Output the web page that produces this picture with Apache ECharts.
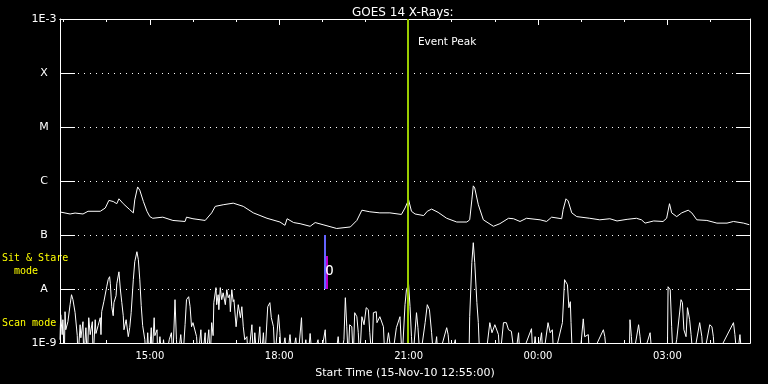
<!DOCTYPE html>
<html>
<head>
<meta charset="utf-8">
<script src="https://cdn.jsdelivr.net/npm/echarts@6/dist/echarts.min.js"></script>
<style>
  html, body { margin: 0; padding: 0; background: #000; }
  #chart { width: 768px; height: 384px; }
</style>
</head>
<body>
<div id="chart"></div>
<script>
// ---- DATA (time in minutes after start time 15-Nov-10 12:55:00) ----
const startMinuteOfDay = 12 * 60 + 55;
const spanMinutes = 960;

// GOES 14 long channel (1-8 A), W/m^2
const longTime = [0,14,21,32,39,56,63,68,74,79,82,88,97,102,104,108,111,116,121,125,129,143,157,174,176,185,202,204,211,216,227,241,255,269,288,306,313,316,325,334,348,355,366,385,404,413,420,431,445,459,475,480,485,489,494,506,511,517,526,538,552,566,570,573,575,577,582,589,603,612,624,631,640,649,668,677,684,698,700,704,707,712,719,737,751,765,775,789,802,809,814,826,839,844,848,851,858,865,874,879,886,900,914,928,937,951,959];
const longFlux = [2.67e-7,2.45e-7,2.55e-7,2.45e-7,2.75e-7,2.75e-7,3.16e-7,4.37e-7,4.17e-7,3.8e-7,4.68e-7,3.8e-7,2.95e-7,2.57e-7,4.47e-7,7.76e-7,6.76e-7,4.17e-7,2.75e-7,2.19e-7,2.04e-7,2.14e-7,1.86e-7,1.78e-7,2.14e-7,2.0e-7,1.86e-7,1.78e-7,2.57e-7,3.39e-7,3.63e-7,3.89e-7,3.39e-7,2.57e-7,2.04e-7,1.74e-7,1.51e-7,2.0e-7,1.7e-7,1.62e-7,1.45e-7,1.7e-7,1.55e-7,1.32e-7,1.41e-7,1.86e-7,2.88e-7,2.69e-7,2.57e-7,2.57e-7,2.4e-7,3.16e-7,4.47e-7,2.75e-7,2.45e-7,2.29e-7,2.75e-7,3.02e-7,2.63e-7,2.04e-7,1.74e-7,1.74e-7,1.91e-7,4.47e-7,8.13e-7,7.41e-7,3.63e-7,1.91e-7,1.45e-7,1.62e-7,2.04e-7,2.0e-7,1.78e-7,2.04e-7,1.91e-7,1.78e-7,2.14e-7,2.0e-7,2.95e-7,4.68e-7,4.27e-7,2.57e-7,2.19e-7,2.04e-7,1.91e-7,2.0e-7,1.82e-7,1.95e-7,2.04e-7,1.91e-7,1.66e-7,1.82e-7,1.78e-7,2.04e-7,3.8e-7,2.57e-7,2.19e-7,2.57e-7,2.88e-7,2.57e-7,1.91e-7,1.86e-7,1.66e-7,1.66e-7,1.78e-7,1.66e-7,1.55e-7];

// GOES 14 short channel (0.5-4 A), W/m^2 (values below 1E-9 sit under the axis)
const shortTime = [0,1,3,4,6,7,8,11,14,16,18,21,24,25,28,29,32,33,36,38,40,42,45,46,49,50,53,56,57,58,61,65,67,69,70,72,74,75,78,79,82,84,86,88,89,92,95,97,99,102,104,107,109,111,113,115,118,120,122,124,127,128,131,132,135,136,139,142,144,147,152,155,157,160,162,164,168,171,174,176,179,181,183,185,190,192,196,198,202,203,207,209,211,213,214,217,218,220,221,223,225,227,230,232,234,236,237,239,241,242,245,248,251,253,255,257,260,262,267,269,271,274,278,280,283,285,289,292,294,297,299,304,306,308,313,316,320,323,328,331,336,338,342,345,348,351,359,362,369,371,383,387,390,395,397,399,401,403,406,408,410,413,415,417,420,423,426,429,431,434,436,440,441,445,450,452,457,459,462,468,473,476,480,482,485,487,489,491,496,498,501,508,511,514,517,520,524,526,538,540,543,550,552,569,570,573,575,577,580,582,584,592,598,601,605,610,612,617,621,624,628,633,638,640,656,658,661,664,670,672,679,682,685,687,699,702,704,706,708,710,711,713,723,728,730,735,737,756,758,761,792,793,795,797,805,807,810,821,824,845,846,849,851,853,858,864,866,868,871,873,876,878,881,890,893,895,904,907,909,911,937,939,942,946,949,960];
const shortFlux = [1.15e-9,3.34e-9,1.43e-9,2.7e-9,5e-10,3.8e-9,1.76e-9,2.48e-9,5.12e-9,7.84e-9,6.34e-9,3.64e-9,1.37e-9,5e-10,2.18e-9,1.25e-9,2.48e-9,5e-10,1.92e-9,5e-10,2.94e-9,1.43e-9,2.48e-9,5e-10,2.7e-9,1.5e-9,2.09e-9,2.94e-9,1.43e-9,3.8e-9,5.82e-9,1.1e-8,1.49e-8,1.69e-8,1.25e-8,4.7e-9,3.2e-9,5.58e-9,7.5e-9,1.25e-8,2.08e-8,9.7e-9,5.58e-9,3.2e-9,1.76e-9,2.7e-9,1.31e-9,1.92e-9,3.64e-9,1.49e-8,3.2e-8,4.9e-8,3.49e-8,1.49e-8,4.91e-9,2.09e-9,1.15e-9,5e-10,1.55e-9,5e-10,1.92e-9,5e-10,2.94e-9,1.37e-9,1.76e-9,5e-10,1.31e-9,5e-10,1.15e-9,5e-10,1.15e-9,1.55e-9,5e-10,6.34e-9,1.15e-9,5e-10,1.43e-9,5e-10,2.18e-9,6.34e-9,7.2e-9,4.7e-9,2.0e-9,2.38e-9,1.31e-9,5e-10,1.76e-9,5e-10,1.55e-9,5e-10,1.76e-9,5e-10,2.38e-9,1.37e-9,5.58e-9,1.06e-8,5.12e-9,7.84e-9,4.14e-9,1.06e-8,6.34e-9,8.5e-9,5.12e-9,9.7e-9,6.9e-9,7.84e-9,3.8e-9,9.7e-9,5.82e-9,6.34e-9,2.0e-9,5.12e-9,2.94e-9,4.7e-9,2.0e-9,1.15e-9,1.31e-9,5e-10,2.18e-9,5e-10,1.55e-9,5e-10,2.0e-9,5e-10,1.55e-9,5e-10,4.7e-9,5.58e-9,2.94e-9,2.0e-9,5e-10,3.34e-9,1.55e-9,5e-10,1.25e-9,5e-10,1.43e-9,5e-10,1.25e-9,5e-10,2.94e-9,5e-10,1.15e-9,5e-10,1.5e-9,5e-10,1.15e-9,5e-10,1.76e-9,5e-10,5e-10,1.31e-9,5e-10,1.15e-9,6.9e-9,2.0e-9,5e-10,2.18e-9,2.0e-9,5e-10,3.64e-9,3.07e-9,1.55e-9,5e-10,3.07e-9,2.18e-9,4.51e-9,4.14e-9,1.55e-9,5e-10,3.64e-9,3.8e-9,2.38e-9,3.07e-9,2.0e-9,5e-10,1.55e-9,1.43e-9,5e-10,1.92e-9,3.07e-9,5e-10,5.12e-9,9.7e-9,1.2e-8,4.7e-9,1.31e-9,5e-10,3.64e-9,1.92e-9,5e-10,2.38e-9,5.12e-9,4.14e-9,1.55e-9,5e-10,1.31e-9,5e-10,1.92e-9,1.43e-9,5e-10,1.15e-9,5e-10,5e-10,3.07e-9,3.1e-8,7.2e-8,3.1e-8,5.58e-9,2.38e-9,5e-10,5e-10,2.38e-9,1.55e-9,2.18e-9,1.43e-9,5e-10,2.38e-9,2.38e-9,1.76e-9,1.65e-9,5e-10,1.55e-9,5e-10,1.84e-9,5e-10,1.31e-9,5e-10,1.55e-9,5e-10,2.38e-9,1.55e-9,1.76e-9,5e-10,2.38e-9,1.49e-8,1.62e-8,1.2e-8,4.51e-9,5.82e-9,2.38e-9,5e-10,5e-10,2.8e-9,1.31e-9,1.43e-9,5e-10,1.76e-9,1.31e-9,5e-10,5e-10,2.7e-9,1.31e-9,5e-10,2.18e-9,1.31e-9,5e-10,1.55e-9,5e-10,5e-10,1.1e-8,9.7e-9,2.0e-9,5e-10,1.15e-9,6.34e-9,5.58e-9,1.76e-9,1.31e-9,4.51e-9,2.7e-9,1.43e-9,5e-10,2.38e-9,1.31e-9,5e-10,2.18e-9,2.0e-9,1.31e-9,5e-10,2.38e-9,1.43e-9,5e-10,1.43e-9,5e-10,5e-10];

// Event peak and sit & stare marker
const eventPeakTime = 484;
const eventLabelFlux = 3.7e-4;
const stareTimes = [369, 371];          // blue, magenta marker columns
const stareBlueRange = [1e-8, 1e-7];
const stareMagentaRange = [1e-8, 4.1e-8];
const stareLabelPoint = [375, 2.1e-8];

// Axis labels
const majorTickTimes = [125, 305, 485, 665, 845];
const majorTickLabels = ['15:00', '18:00', '21:00', '00:00', '03:00'];
const yTickExponents = [-9, -8, -7, -6, -5, -4, -3];
const yTickLabels = ['1E-9', 'A', 'B', 'C', 'M', 'X', '1E-3'];

const titleText = 'GOES 14 X-Rays:';
const xAxisName = 'Start Time (15-Nov-10 12:55:00)';

// hourly minor ticks
const hourTicks = [];
for (let m = 60 - (startMinuteOfDay % 60); m <= spanMinutes; m += 60) hourTicks.push(m);

const FONT = 'DejaVu Sans';
const WHITE = '#ffffff';

const chart = echarts.init(document.getElementById('chart'), null, { renderer: 'canvas' });

const baseX = {
  type: 'value', min: 0, max: spanMinutes, gridIndex: 0,
  splitLine: { show: false },
  axisLine: { show: true, onZero: false, lineStyle: { color: WHITE, width: 1 } },
  axisLabel: { show: false }
};
const baseY = {
  type: 'log', logBase: 10, min: 1e-9, max: 1e-3,
  axisLine: { show: true, onZero: false, lineStyle: { color: WHITE, width: 1 } }
};

const option = {
  backgroundColor: '#000000',
  animation: false,
  title: {
    text: titleText, left: 347, top: 2,
    textStyle: { color: WHITE, fontSize: 12, fontWeight: 'normal', fontFamily: FONT }
  },
  grid: { left: 60, right: 18, top: 19, bottom: 41, containLabel: false },
  xAxis: [
    Object.assign({}, baseX, {
      position: 'bottom',
      axisTick: { show: true, inside: true, length: 6, customValues: majorTickTimes, lineStyle: { color: WHITE } },
      axisLabel: {
        show: true, customValues: majorTickTimes, color: WHITE, fontSize: 10, fontFamily: FONT, margin: 8,
        formatter: v => majorTickLabels[majorTickTimes.indexOf(Math.round(v))] || ''
      },
      name: xAxisName, nameLocation: 'middle', nameGap: 25,
      nameTextStyle: { color: WHITE, fontSize: 11, fontFamily: FONT }
    }),
    Object.assign({}, baseX, {
      position: 'bottom',
      axisTick: { show: true, inside: true, length: 3, customValues: hourTicks, lineStyle: { color: WHITE } }
    }),
    Object.assign({}, baseX, {
      position: 'top',
      axisTick: { show: true, inside: true, length: 6, customValues: majorTickTimes, lineStyle: { color: WHITE } }
    }),
    Object.assign({}, baseX, {
      position: 'top',
      axisTick: { show: true, inside: true, length: 3, customValues: hourTicks, lineStyle: { color: WHITE } }
    })
  ],
  yAxis: [
    Object.assign({}, baseY, {
      position: 'left',
      axisTick: { show: true, inside: true, length: 15, lineStyle: { color: WHITE } },
      axisLabel: {
        show: true, color: WHITE, fontSize: 11, fontFamily: FONT, align: 'center', margin: 16,
        formatter: v => {
          const i = yTickExponents.indexOf(Math.round(Math.log10(v)));
          return i >= 0 ? yTickLabels[i] : '';
        }
      },
      splitLine: { show: true, lineStyle: { color: WHITE, width: 1, type: [1, 5] } }
    }),
    Object.assign({}, baseY, {
      position: 'right',
      axisTick: { show: true, inside: true, length: 14, lineStyle: { color: WHITE } },
      axisLabel: { show: false },
      splitLine: { show: false }
    })
  ],
  series: [
    {
      type: 'line', name: 'Short', xAxisIndex: 0, yAxisIndex: 0,
      data: shortTime.map((t, i) => [t, shortFlux[i]]),
      showSymbol: false, symbol: 'none', clip: true, silent: true,
      lineStyle: { color: WHITE, width: 1 }
    },
    {
      type: 'line', name: 'Long', xAxisIndex: 0, yAxisIndex: 0,
      data: longTime.map((t, i) => [t, longFlux[i]]),
      showSymbol: false, symbol: 'none', clip: true, silent: true,
      lineStyle: { color: WHITE, width: 1 },
      markLine: {
        silent: true, symbol: ['none', 'none'], label: { show: false },
        data: [
          { xAxis: eventPeakTime, lineStyle: { color: '#9acd00', width: 2, type: 'solid' } },
          [
            { coord: [stareTimes[0], stareBlueRange[0]], lineStyle: { color: '#6464ff', width: 2, type: 'solid' } },
            { coord: [stareTimes[0], stareBlueRange[1]] }
          ],
          [
            { coord: [stareTimes[1], stareMagentaRange[0]], lineStyle: { color: '#c000d0', width: 2, type: 'solid' } },
            { coord: [stareTimes[1], stareMagentaRange[1]] }
          ]
        ]
      },
      markPoint: {
        silent: true, symbol: 'circle', symbolSize: 0,
        itemStyle: { color: 'rgba(0,0,0,0)' },
        data: [
          {
            coord: [eventPeakTime, eventLabelFlux], value: 'Event Peak',
            label: { show: true, position: 'right', distance: 10, formatter: 'Event Peak', color: WHITE, fontSize: 10.5, fontFamily: FONT }
          },
          {
            coord: stareLabelPoint, value: 'O',
            label: { show: true, position: 'inside', formatter: 'O', color: WHITE, fontSize: 14, fontFamily: 'DejaVu Sans Mono' }
          }
        ]
      }
    }
  ],
  graphic: [
    { type: 'text', left: 2, top: 253, style: { text: 'Sit & Stare', fill: '#ffff00', font: '10px "DejaVu Sans Mono"' } },
    { type: 'text', left: 2, top: 266, style: { text: '  mode', fill: '#ffff00', font: '10px "DejaVu Sans Mono"' } },
    { type: 'text', left: 2, top: 318, style: { text: 'Scan mode', fill: '#ffff00', font: '10px "DejaVu Sans Mono"' } }
  ]
};

chart.setOption(option);
</script>
</body>
</html>
